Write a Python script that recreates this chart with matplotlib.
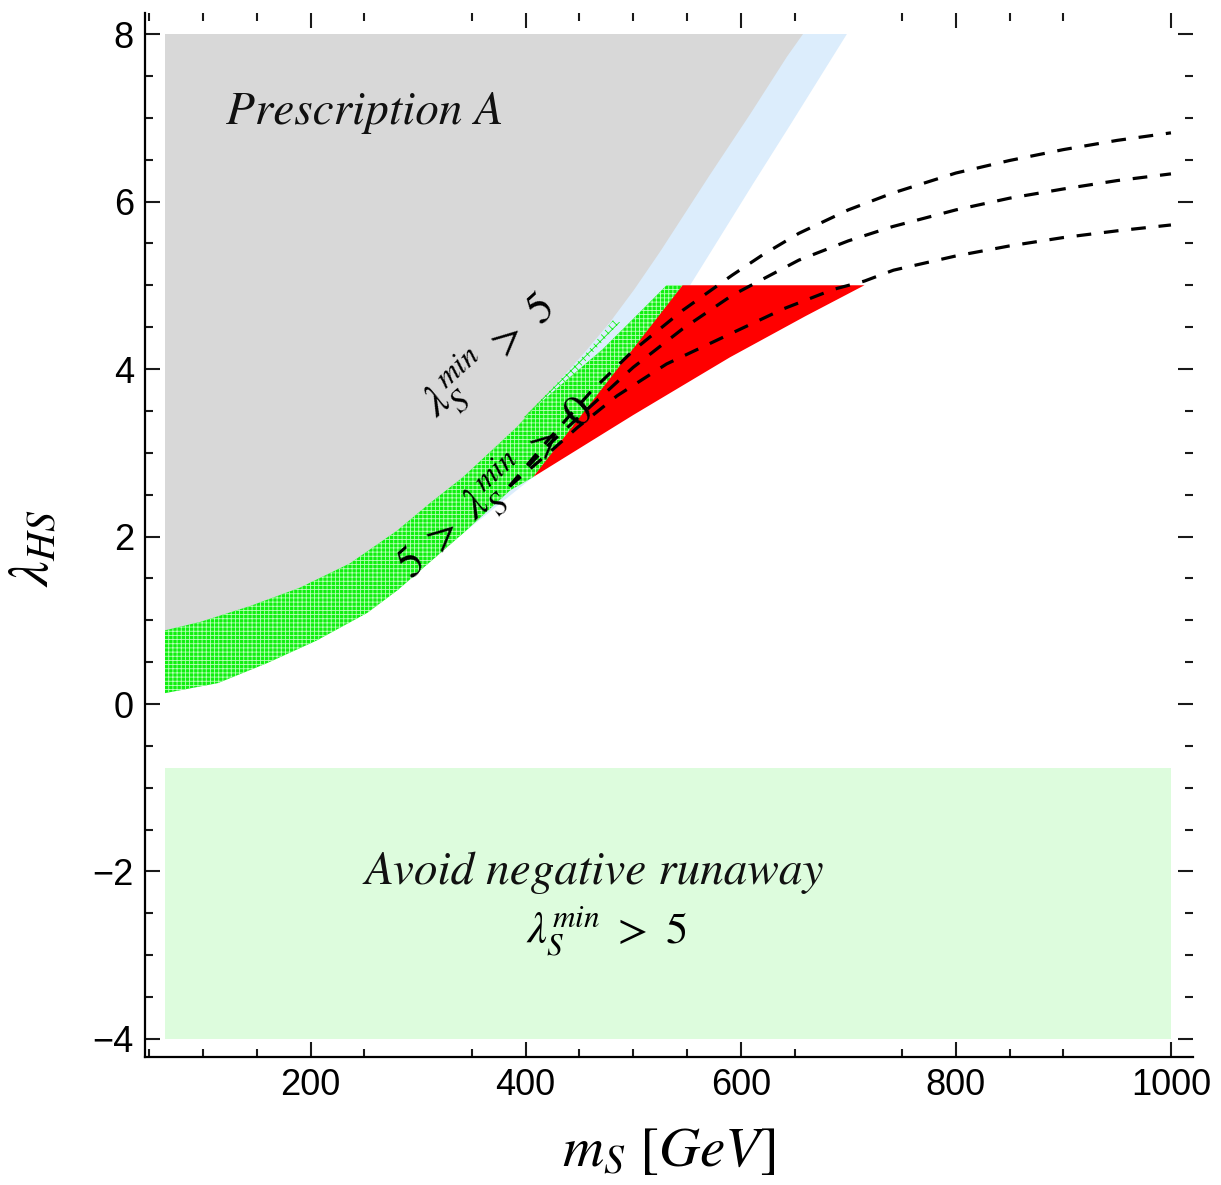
import matplotlib.pyplot as plt
import numpy as np
from matplotlib.ticker import FixedLocator

plt.rcParams['mathtext.fontset'] = 'stix'
plt.rcParams['hatch.linewidth'] = 0.6

# axis settings
x_major = [200, 400, 600, 800, 1000]
x_minor = [50, 100, 150, 250, 350, 450, 500, 550, 650, 750, 850, 900]
y_major = [-4, -2, 0, 2, 4, 6, 8]
y_minor = [-4.0 + 0.5 * i for i in range(26)]

# Prescription A excluded region (grey)
grey_x = [64.7, 64.7, 97.3, 143.8, 190.2, 236.7, 280.4, 311.1, 341.8, 392.0, 432.0, 455.0,
          478.5, 501.0, 525.0, 571.4, 608.6, 643.0, 657.9]
grey_y = [8.0, 0.88, 0.98, 1.17, 1.39, 1.68, 2.07, 2.40, 2.71, 3.31, 3.87, 4.20,
          4.56, 4.95, 5.40, 6.32, 7.04, 7.73, 8.0]

# light blue band along the grey boundary
blue_x = [64.7, 698.7, 645.8, 611.4, 574.2, 550.0, 500, 407, 342, 281, 206, 114, 64.7]
blue_y = [8.0, 8.0, 6.91, 6.21, 5.44, 4.94, 4.2, 2.71, 2.04, 1.36, 0.76, 0.25, 0.13]

# 5 > lambda_S^min > 0 band (green)
green_x = [64.7, 97.3, 143.8, 190.2, 236.7, 280.4, 311.1, 341.8, 392.0, 406, 440, 471, 500, 531,
           546, 509, 466, 407, 385.5, 342, 281, 253, 206, 160, 114, 64.7]
green_y = [0.88, 0.98, 1.17, 1.39, 1.68, 2.07, 2.40, 2.71, 3.31, 3.51, 3.89, 4.23, 4.60, 5.0,
           5.0, 4.34, 3.63, 2.71, 2.55, 2.04, 1.36, 1.09, 0.76, 0.49, 0.25, 0.13]

# sparse green strip next to the grey edge
strip_x = [398, 432.0, 458, 481, 488, 466, 441, 410]
strip_y = [3.42, 3.87, 4.22, 4.58, 4.56, 4.25, 3.87, 3.46]

# allowed region (red)
red_x = [407, 546, 715, 660, 590, 500, 407]
red_y = [2.71, 5.0, 5.0, 4.63, 4.14, 3.45, 2.71]

# negative runaway region (pale green)
pale_x = [64.7, 1000]
pale_lo = -4.0
pale_hi = -0.77

# dashed curves
top_x = [385, 420, 460, 500, 546, 592, 620, 654, 700, 741, 800, 850, 900, 950, 1000]
top_y = [2.60, 3.14, 3.72, 4.22, 4.70, 5.12, 5.36, 5.62, 5.90, 6.10, 6.34, 6.49, 6.62, 6.73, 6.82]
mid_x = [385, 420, 460, 500, 546, 592, 654, 700, 741, 800, 850, 900, 950, 1000]
mid_y = [2.60, 3.08, 3.55, 4.02, 4.48, 4.88, 5.30, 5.53, 5.70, 5.90, 6.04, 6.15, 6.25, 6.33]
low_x = [385, 420, 448, 485, 531, 592, 640, 686, 715, 742, 800, 850, 900, 950, 1000]
low_y = [2.60, 2.98, 3.30, 3.68, 4.06, 4.43, 4.72, 4.95, 5.05, 5.18, 5.35, 5.47, 5.57, 5.65, 5.72]

fig = plt.figure(figsize=(12.21, 11.85), dpi=100)
ax = fig.add_axes([145 / 1221, 1 - 1057 / 1185, 1048 / 1221, 1044 / 1185])

ax.fill_between(pale_x, pale_lo, pale_hi, color='#ddfcdd', lw=0, zorder=1)
ax.fill(blue_x, blue_y, color='#dcedfc', lw=0, zorder=1)
ax.fill(grey_x, grey_y, color='#d8d8d8', lw=0, zorder=2)
ax.fill(strip_x, strip_y, facecolor='none', edgecolor='#10f010', hatch='xxxx', lw=0, zorder=3)
ax.fill(green_x, green_y, facecolor='#10f010', edgecolor='#b8ffb8', hatch='++++', lw=0, zorder=3)
ax.fill(red_x, red_y, color='#ff0000', lw=0, zorder=4)

for xs, ys in [(top_x, top_y), (mid_x, mid_y), (low_x, low_y)]:
    ax.plot(xs, ys, color='black', lw=2.3, ls=(0, (4.6, 4.0)), zorder=5)

# labels inside the plot
tfont = dict(family='STIXGeneral', style='italic', color='#111111')
ax.text(250, 7.06, 'Prescription A', fontsize=34, ha='center', va='center', **tfont)
ax.text(366, 4.15, r'$\lambda_S^{min}\ >\ 5$', fontsize=32, rotation=42,
        ha='center', va='center', zorder=6)
ax.text(372, 2.58, r'$5\ >\ \lambda_S^{min}\ >\ 0$', fontsize=32, rotation=42,
        ha='center', va='center', zorder=6)
ax.text(464, -2.02, 'Avoid negative runaway', fontsize=34, ha='center', va='center', **tfont)
ax.text(475, -2.72, r'$\lambda_S^{min}\ >\ 5$', fontsize=32, ha='center', va='center')

ax.set_xlim(46.1, 1020.5)
ax.set_ylim(-4.215, 8.251)

ax.set_xticks(x_major)
ax.set_xticklabels([str(v) for v in x_major])
ax.set_yticks(y_major)
ax.set_yticklabels([str(v).replace('-', '\u2212') for v in y_major])
ax.xaxis.set_minor_locator(FixedLocator(x_minor))
ax.yaxis.set_minor_locator(FixedLocator([v for v in y_minor if v not in y_major]))

ax.tick_params(which='both', direction='in', top=True, right=True, width=1.5, color='#1a1a1a',
               labelsize=26, pad=8)
ax.tick_params(which='major', length=11)
ax.tick_params(which='minor', length=6)
for lab in ax.get_xticklabels() + ax.get_yticklabels():
    lab.set_family('Liberation Sans')

ax.spines['top'].set_visible(False)
ax.spines['right'].set_visible(False)
ax.spines['left'].set_linewidth(1.6)
ax.spines['bottom'].set_linewidth(1.6)

ax.set_xlabel(r'$m_S\ [GeV]$', fontsize=41, labelpad=14)
ax.set_ylabel(r'$\lambda_{HS}$', fontsize=41)
ax.yaxis.set_label_coords(-0.081, 0.4875)

fig.savefig('out.png', dpi=100)
